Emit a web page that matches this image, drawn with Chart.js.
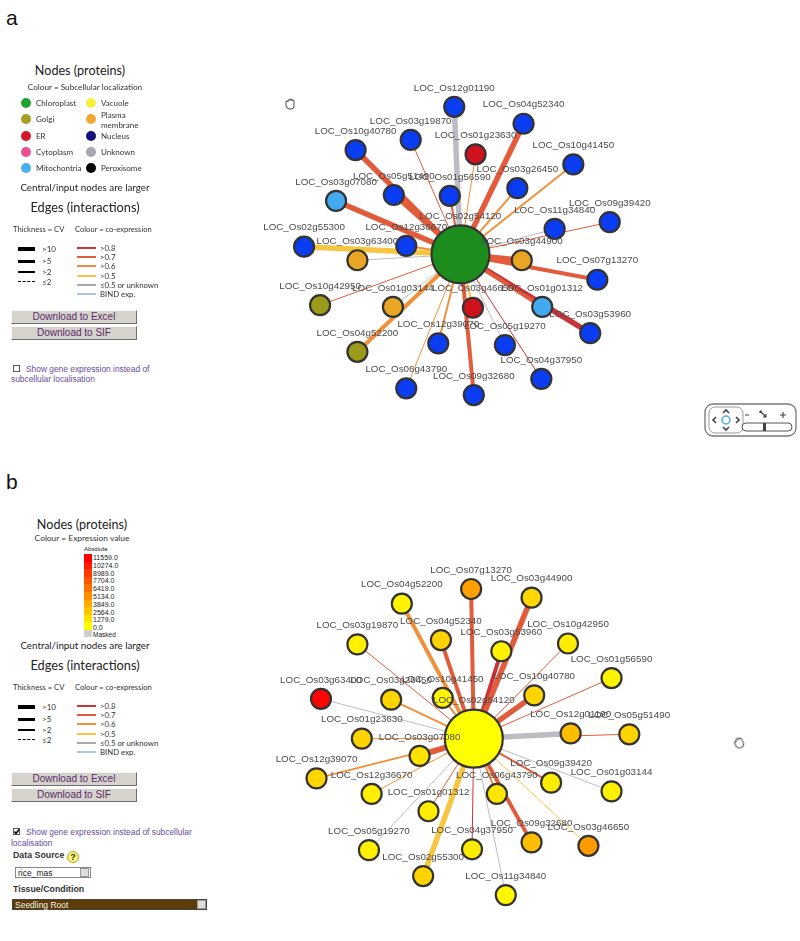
<!DOCTYPE html>
<html>
<head>
<meta charset="utf-8">
<script src="https://cdn.jsdelivr.net/npm/chart.js@4.4.0/dist/chart.umd.min.js"></script>
<style>
body{margin:0;background:#fff;width:800px;height:941px;overflow:hidden;position:relative;font-family:Lato,"Open Sans",sans-serif;}
.t{position:absolute;white-space:nowrap;transform:translateY(-50%);color:#333;line-height:1.05}
.c{transform:translate(-50%,-50%)}
.btn{position:absolute;background:#d6d3cd;border:1px solid;border-color:#f6f6f6 #6e6e6e #6e6e6e #f6f6f6;font:10px "Liberation Sans",Arial,sans-serif;color:#5b2b6b;text-align:center;box-sizing:border-box;line-height:12px}
.f{font-family:"Liberation Sans",Arial,sans-serif}
canvas{position:absolute}
</style>
</head>
<body>
<canvas id="chartA" width="560" height="410" style="left:240px;top:40px"></canvas>
<canvas id="chartB" width="560" height="461" style="left:240px;top:480px"></canvas>

<svg style="position:absolute;left:704px;top:403px" width="94" height="36">
  <rect x="1" y="1" width="91" height="32" rx="8" fill="#fff" stroke="#777" stroke-width="1.3"/>
  <rect x="5" y="4" width="34" height="26" rx="6" fill="none" stroke="#999"/>
  <path d="M19 10 l3 -3 l3 3 M19 24 l3 3 l3 -3 M12 14 l-3 3 l3 3 M32 14 l3 3 l-3 3" fill="none" stroke="#444" stroke-width="1.6"/>
  <circle cx="22" cy="17" r="4" fill="none" stroke="#4ab0e0" stroke-width="1.5"/>
  <path d="M41 12 h4 M56 8 l6 6 M59 14 h3 v-3 M56 8 h2 M56 8 v2 M76 12 h6 M79 9 v6" fill="none" stroke="#444" stroke-width="1.2"/>
  <rect x="38" y="20" width="50" height="8" rx="4" fill="#fff" stroke="#555"/>
  <rect x="59" y="20" width="3" height="8" fill="#444"/>
</svg>

<svg style="position:absolute;left:283px;top:97px" width="14" height="14">
  <path d="M3 9 V5 a1 1 0 0 1 2 0 V3.5 a1 1 0 0 1 2 0 V3 a1 1 0 0 1 2 0 V4 a1 1 0 0 1 2 0 V9 q0 3 -3 3 H6 q-2 0 -3 -3z" fill="#fff" stroke="#333" stroke-width="0.9"/>
</svg>
<svg style="position:absolute;left:732px;top:736px;transform:rotate(-25deg)" width="14" height="14">
  <path d="M3 9 V5 a1 1 0 0 1 2 0 V3.5 a1 1 0 0 1 2 0 V3 a1 1 0 0 1 2 0 V4 a1 1 0 0 1 2 0 V9 q0 3 -3 3 H6 q-2 0 -3 -3z" fill="#fff" stroke="#333" stroke-width="0.9"/>
</svg>

<script>
"use strict";

// ---- panel a : subcellular localisation ----
const genesA = ["LOC_Os02g54120","LOC_Os12g01190","LOC_Os04g52340","LOC_Os10g40780","LOC_Os03g19870","LOC_Os01g23630",
  "LOC_Os10g41450","LOC_Os03g26450","LOC_Os05g51490","LOC_Os01g56590","LOC_Os03g07080","LOC_Os11g34840",
  "LOC_Os09g39420","LOC_Os02g55300","LOC_Os12g36670","LOC_Os03g63400","LOC_Os03g44900","LOC_Os07g13270",
  "LOC_Os10g42950","LOC_Os01g03144","LOC_Os03g46650","LOC_Os01g01312","LOC_Os03g53960","LOC_Os04g52200",
  "LOC_Os12g39070","LOC_Os05g19270","LOC_Os04g37950","LOC_Os06g43790","LOC_Os09g32680"];
const xA = [453,446,524,335,397,470,580,517,378,441,313,559,621,277,392,337,522,607,295,377,467,545,599,337,428,503,544,392,468];
const yA = [256,82,102,133,121,138,150,178,186,187,193,226,218,247,246,263,263,286,316,318,319,318,349,371,361,363,403,414,422];
const locA = ["Chloroplast","Nucleus","Nucleus","Nucleus","Nucleus","ER","Nucleus","Nucleus","Nucleus","Nucleus","Mitochontria","Nucleus",
  "Nucleus","Nucleus","Nucleus","Plasma membrane","Plasma membrane","Nucleus","Golgi","Plasma membrane","ER","Mitochontria","Nucleus","Golgi",
  "Nucleus","Nucleus","Nucleus","Nucleus","Nucleus"];
const cvA = [null,12,12,12,1.5,1.5,3,3,8,3,12,1.5,1.5,12,3,1.5,12,8,1.5,1.5,3,8,12,8,3,1.5,1.5,1.5,8];
const coexpA = [null,0.3,0.75,0.75,0.75,0.65,0.65,0.65,0.75,0.75,0.75,0.4,0.75,0.55,0.65,0.4,0.75,0.75,0.75,0.4,0.55,0.75,0.85,0.65,0.65,0.4,0.85,0.65,0.75];

// ---- panel b : gene expression (Seedling Root) ----
const genesB = ["LOC_Os02g54120","LOC_Os07g13270","LOC_Os03g44900","LOC_Os04g52200","LOC_Os04g52340","LOC_Os03g19870",
  "LOC_Os03g53960","LOC_Os10g42950","LOC_Os01g56590","LOC_Os03g26450","LOC_Os10g41450","LOC_Os10g40780",
  "LOC_Os03g63400","LOC_Os12g01190","LOC_Os05g51490","LOC_Os01g23630","LOC_Os03g07080","LOC_Os12g39070",
  "LOC_Os12g36670","LOC_Os01g01312","LOC_Os06g43790","LOC_Os09g39420","LOC_Os01g03144","LOC_Os05g19270",
  "LOC_Os04g37950","LOC_Os09g32680","LOC_Os03g46650","LOC_Os02g55300","LOC_Os11g34840"];
const xB = [468,465,533,387,431,337,499,574,623,375,433,536,296,577,643,342,407,291,353,417,494,555,623,350,466,533,597,411,504];
const yB = [743,570,580,587,629,634,642,633,673,698,696,693,697,737,738,743,763,789,807,827,807,794,804,872,871,863,867,902,924];
const exprB = [0,4300,1800,500,2000,700,600,800,500,1900,500,1900,11400,3000,2000,2000,1300,1900,700,800,1200,800,700,700,900,3000,4600,2000,400];
const cvB = [null,8,12,6,8,1.5,8,1.5,1.5,3,3,12,1.5,12,1.5,1.5,12,3,1.5,1.5,3,3,1.5,1.5,1.5,8,1.5,12,1.5];
const coexpB = [null,0.75,0.75,0.65,0.75,0.75,0.85,0.75,0.75,0.65,0.65,0.75,0.4,0.4,0.75,0.65,0.75,0.65,0.65,0.75,0.65,0.75,0.4,0.4,0.85,0.75,0.55,0.55,0.4];

// legend values
const locNames = ["Chloroplast","Golgi","ER","Cytoplasm","Mitochontria","Vacuole","Plasma<br>membrane","Nucleus","Unknown","Peroxisome"];
const expTicks = [11559,10274,8989,7704,6419,5134,3849,2564,1279,0];
const expMax = 11559;
const cvLabels = [">10",">5",">2","≤2"];
const coexpLabels = [">0.8",">0.7",">0.6",">0.5","≤0.5 or unknown","BIND exp."];

const nodeColour = {"Chloroplast":"#1c8c1c","Golgi":"#9c9a1a","ER":"#d0121c","Cytoplasm":"#e84a8a","Mitochontria":"#44aaf0",
  "Vacuole":"#f8ec3c","Plasma membrane":"#e8a624","Nucleus":"#0a3cf2","Unknown":"#a8a8b0","Peroxisome":"#000"};
const legendDot = ["#22a032","#a6a024","#d8142a","#e8508e","#48b0f0","#f8ee40","#f0a830","#14147a","#a8a8ac","#000"];

function coexpColour(c) {
	if (c > 0.8) return "#c8343a";
	if (c > 0.7) return "#e25c3c";
	if (c > 0.6) return "#f0903a";
	if (c > 0.5) return "#f6c640";
	return "#bcbcc4";
}
function cvWidth(cv) {
	if (cv > 10) return 5.5;
	if (cv > 5) return 4;
	if (cv > 2) return 2;
	return 1;
}
function exprColour(v) {
	let g = Math.round(255 * (1 - Math.min(v, expMax) / expMax));
	return `rgb(255,${g},0)`;
}

// ---- html legend helpers ----
function put(html, x, y, css, cls) {
	let d = document.createElement("div");
	d.className = "t" + (cls ? " " + cls : "");
	d.style.left = x + "px";
	d.style.top = y + "px";
	if (css) d.style.cssText += css;
	d.innerHTML = html;
	document.body.appendChild(d);
	return d;
}
function rect(x, y, w, h, css) {
	let d = document.createElement("div");
	d.style.cssText = `position:absolute;left:${x}px;top:${y}px;width:${w}px;height:${h}px;` + (css || "");
	document.body.appendChild(d);
	return d;
}

function edgeLegend(dy) {
	put("Central/input nodes are larger", 85, 187 + dy, "font-size:9.8px;color:#222", "c");
	put("Edges (interactions)", 85, 208 + dy, "font-size:12.8px;color:#222", "c");
	put("Thickness = CV", 13, 230 + dy, "font-size:7.6px");
	put("Colour = co-expression", 75, 230 + dy, "font-size:7.6px");
	const thick = [4, 3, 1.5, 1.2];
	const ty = [249, 261, 272, 282];
	for (let i = 0; i < cvLabels.length; i++) {
		let st = i == 3 ? "border-top:1.2px dashed #000;" : `background:#000;`;
		rect(18, ty[i] + dy - thick[i] / 2, 17, i == 3 ? 0 : thick[i], st);
		put(cvLabels[i], 42, ty[i] + dy, "font-size:8px");
	}
	const cy = [248, 257, 266, 276, 285, 294];
	const cols = [coexpColour(0.85), coexpColour(0.75), coexpColour(0.65), coexpColour(0.55), "#a8a8a8", "#a8c4e4"];
	for (let i = 0; i < coexpLabels.length; i++) {
		rect(77, cy[i] + dy - 1, 19, 2, "background:" + cols[i]);
		put(coexpLabels[i], 100, cy[i] + dy, "font-size:7.8px");
	}
}
function buttons(y1, y2) {
	let b1 = rect(11, y1, 126, 14); b1.className = "btn"; b1.textContent = "Download to Excel";
	let b2 = rect(11, y2, 126, 14); b2.className = "btn"; b2.textContent = "Download to SIF";
}
function checkbox(x, y, checked) {
	let d = rect(x, y, 7, 7, "border:1px solid #555;background:#fff;box-sizing:border-box");
	if (checked) d.innerHTML = '<svg width="7" height="7" style="position:absolute;left:-1px;top:-1px"><path d="M1.5 3.5 L3 5.5 L6 1.5" stroke="#000" stroke-width="1.4" fill="none"/></svg>';
}

// panel labels
put("a", 6, 18, "font-size:21px;color:#111", "f");
put("b", 6, 482, "font-size:21px;color:#111", "f");

// legend a
put("Nodes (proteins)", 80, 71, "font-size:12.6px;color:#222", "c");
put("Colour = Subcellular localization", 85, 87, "font-size:8.2px", "c");
const rowsY = [103, 119, 136, 152, 168];
for (let i = 0; i < locNames.length; i++) {
	let col = i < 5 ? 0 : 1;
	let r = i % 5;
	let cx = col ? 91 : 26;
	rect(cx - 5, rowsY[r] - 5, 10, 10, "border-radius:50%;background:" + legendDot[i]);
	put(locNames[i], cx + 10, rowsY[r] + (i == 6 ? 1 : 0), "font-size:8px;line-height:1.25");
}
edgeLegend(0);
buttons(310, 326);
checkbox(13, 365, false);
put("Show gene expression instead of", 26, 369, "font-size:8.4px;color:#6a4a9a", "f");
put("subcellular localisation", 11, 379, "font-size:8.4px;color:#6a4a9a", "f");

// legend b
put("Nodes (proteins)", 82, 525, "font-size:12.6px;color:#222", "c");
put("Colour = Expression value", 82, 538, "font-size:8.4px", "c");
put("Absolute", 84, 549, "font-size:6px;color:#222");
for (let i = 0; i < expTicks.length; i++) {
	rect(84, 554 + i * 7.6, 8, 7.8, "background:" + exprColour(expTicks[i]));
	put(expTicks[i].toFixed(1), 93, 558 + i * 7.8, "font-size:7px;color:#222", "f");
}
rect(84, 630, 8, 7, "background:#cfcfcf");
put("Masked", 93, 635, "font-size:6.5px;color:#222", "f");
edgeLegend(458);
buttons(772, 788);
checkbox(13, 828, true);
put("Show gene expression instead of subcellular", 26, 832, "font-size:8.4px;color:#6a4a9a", "f");
put("localisation", 11, 843, "font-size:8.4px;color:#6a4a9a", "f");
put("Data Source", 13, 856, "font-size:8.8px;font-weight:bold;color:#333", "f");
rect(67, 851, 12, 12, "border-radius:50%;background:#fbf27a;border:1px solid #b8a820;box-sizing:border-box;font:bold 9px Arial;text-align:center;line-height:11px;color:#333").textContent = "?";
rect(15, 867, 76, 11, "border:1px solid #888;background:#fff;box-sizing:border-box");
put("rice_mas", 18, 872.5, "font-size:8.5px;color:#222", "f");
rect(80, 868, 9, 9, "background:#ddd;border:1px solid #999;box-sizing:border-box");
put("Tissue/Condition", 13, 890, "font-size:8.8px;font-weight:bold;color:#333", "f");
rect(12, 899, 195, 11, "background:#5e3c0a;border:1px solid #444;box-sizing:border-box");
put("Seedling Root", 15, 904.5, "font-size:8.5px;color:#f4f0e0", "f");
rect(197, 900, 9, 9, "background:#ddd;border:1px solid #999;box-sizing:border-box");

// ---- charts ----
const labelPlugin = {
	id: "nodeLabels",
	afterDatasetsDraw(chart) {
		const ctx = chart.ctx;
		const n = chart.data.datasets.length - 1;
		const ds = chart.data.datasets[n];
		const meta = chart.getDatasetMeta(n);
		ctx.save();
		ctx.font = "9.8px 'Liberation Sans', Arial, sans-serif";
		ctx.fillStyle = "#4a4a4a";
		ctx.textAlign = "center";
		ctx.textBaseline = "middle";
		meta.data.forEach(function (pt, i) {
			ctx.fillText(ds.names[i], pt.x, pt.y - ds.pointRadius[i] - 9);
		});
		ctx.restore();
	}
};

function network(canvasId, names, xs, ys, yMin, yMax, colours, cv, coexp) {
	let datasets = [];
	for (let i = 1; i < xs.length; i++) {
		datasets.push({
			data: [{ x: xs[0], y: ys[0] }, { x: xs[i], y: ys[i] }],
			showLine: true,
			borderColor: coexpColour(coexp[i]),
			borderWidth: cvWidth(cv[i]),
			pointRadius: 0,
			clip: false,
			order: 1
		});
	}
	datasets.push({
		names: names,
		data: xs.map((x, i) => ({ x: x, y: ys[i] })),
		pointRadius: xs.map((x, i) => i == 0 ? 29 : 10),
		pointBackgroundColor: colours,
		pointBorderColor: "#333",
		pointBorderWidth: 2.2,
		clip: false,
		order: 0
	});
	return new Chart(document.getElementById(canvasId), {
		type: "scatter",
		data: { datasets: datasets },
		options: {
			responsive: false,
			animation: false,
			events: [],
			layout: { padding: 0 },
			plugins: { legend: { display: false }, tooltip: { enabled: false } },
			scales: {
				x: { type: "linear", min: 240, max: 800, display: false },
				y: { type: "linear", min: yMin, max: yMax, reverse: true, display: false }
			}
		},
		plugins: [labelPlugin]
	});
}

network("chartA", genesA, xA, yA, 40, 450, locA.map(l => nodeColour[l]), cvA, coexpA);
network("chartB", genesB, xB, yB, 480, 941, exprB.map(v => exprColour(v)), cvB, coexpB);
</script>
</body>
</html>
